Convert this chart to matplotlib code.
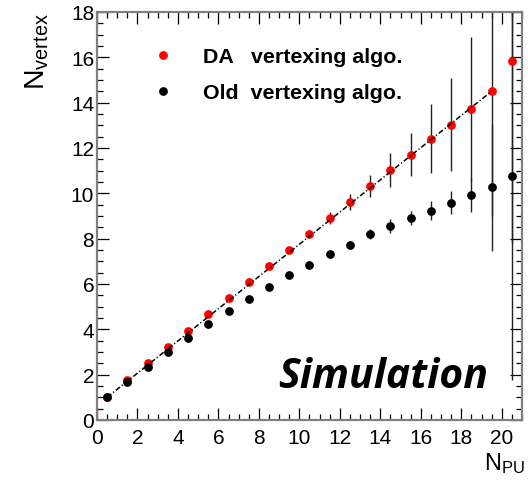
import matplotlib
matplotlib.use("Agg")
import matplotlib.pyplot as plt
from matplotlib.ticker import MultipleLocator
import numpy as np

plt.rcParams['font.family'] = ['Liberation Sans', 'DejaVu Sans']
plt.rcParams['mathtext.fontset'] = 'custom'
plt.rcParams['mathtext.rm'] = 'Liberation Sans'
plt.rcParams['mathtext.it'] = 'Liberation Sans:italic'

# pile-up bins
n_pu = [0.5, 1.5, 2.5, 3.5, 4.5, 5.5, 6.5, 7.5, 8.5, 9.5, 10.5,
        11.5, 12.5, 13.5, 14.5, 15.5, 16.5, 17.5, 18.5, 19.5, 20.5]

# mean reconstructed vertices, DA algorithm
nvtx_da = [1.02, 1.78, 2.50, 3.22, 3.94, 4.68, 5.38, 6.07, 6.81, 7.50, 8.22,
           8.91, 9.63, 10.31, 11.03, 11.70, 12.41, 13.03, 13.72, 14.51, 15.82]
err_da = [0.02, 0.03, 0.03, 0.04, 0.05, 0.06, 0.07, 0.08, 0.09, 0.11, 0.15,
          0.26, 0.35, 0.49, 0.75, 0.95, 1.53, 2.04, 3.16, 5.5, 8.0]

# mean reconstructed vertices, old algorithm
nvtx_old = [1.00, 1.69, 2.34, 2.99, 3.60, 4.22, 4.81, 5.34, 5.88, 6.40, 6.85,
            7.31, 7.73, 8.19, 8.57, 8.92, 9.23, 9.59, 9.91, 10.26, 10.76]
err_old = [0.01, 0.02, 0.02, 0.03, 0.03, 0.04, 0.05, 0.05, 0.06, 0.07, 0.09,
           0.12, 0.16, 0.22, 0.30, 0.30, 0.42, 0.50, 0.75, 2.8, 9.0]

# linear fit to the DA points
fit_range = [0.5, 19.5]
fit_p0, fit_p1 = 0.645, 0.7105

fig = plt.figure(figsize=(5.28, 4.85), dpi=100)
ax = fig.add_axes([0.1837, 0.132, 0.8049, 0.8413])

ax.errorbar(n_pu, nvtx_da, yerr=err_da, fmt='none', ecolor='#222222',
            elinewidth=1.0, zorder=2)
ax.errorbar(n_pu, nvtx_old, yerr=err_old, fmt='none', ecolor='#222222',
            elinewidth=1.0, zorder=2)
h_da, = ax.plot(n_pu, nvtx_da, 'o', color='#ff0000', ms=6.3, mec='none', zorder=3)
h_old, = ax.plot(n_pu, nvtx_old, 'o', color='black', ms=6.3, mec='none', zorder=4)

fx = np.array(fit_range)
ax.plot(fx, fit_p0 + fit_p1 * fx, color='black', lw=1.1,
        linestyle=(0, (3.5, 1.5, 0.8, 1.5)), zorder=5)

ax.set_xlim(0, 21)
ax.set_ylim(0, 18)
ax.xaxis.set_major_locator(MultipleLocator(2))
ax.xaxis.set_minor_locator(MultipleLocator(0.5))
ax.yaxis.set_major_locator(MultipleLocator(2))
ax.yaxis.set_minor_locator(MultipleLocator(0.5))
ax.tick_params(which='both', direction='in', top=True, right=True,
               color='black', width=0.9, labelsize=15)
ax.tick_params(which='major', length=8.5)
ax.tick_params(which='minor', length=4.5)
ax.tick_params(axis='x', pad=6)
ax.tick_params(axis='y', pad=2)
for s in ax.spines.values():
    s.set_color('#808080')
    s.set_linewidth(1.6)

fig.text(0.071, 0.973, r'$\mathrm{N_{vertex}}$', rotation=90, ha='center',
         va='top', fontsize=20.5)
fig.text(0.994, 0.031, r'$\mathrm{N_{PU}}$', ha='right', va='baseline',
         fontsize=17)

ax.legend([h_da, h_old], ['DA   vertexing algo.', 'Old  vertexing algo.'],
          loc='upper left', bbox_to_anchor=(0.13, 0.913), frameon=False,
          borderpad=0, borderaxespad=0, handlelength=1.0, handletextpad=1.35,
          labelspacing=0.78, numpoints=1,
          prop={'family': 'Liberation Sans', 'weight': 'bold', 'size': 15.4})

ax.text(0.92, 0.081, 'Simulation', transform=ax.transAxes, ha='right',
        va='baseline', fontsize=29.5, family='Open Sans', weight='bold',
        style='italic')

fig.savefig('out.png', dpi=100)
